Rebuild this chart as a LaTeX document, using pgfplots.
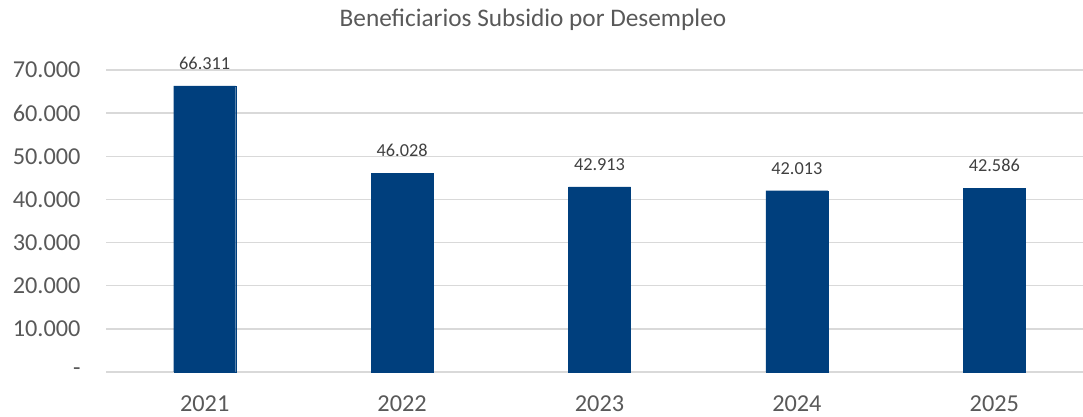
\documentclass[border=0pt]{standalone}
\usepackage{fontspec}
\setmainfont{Carlito}
\usepackage{pgfplots}
\pgfplotsset{compat=1.18}
\definecolor{barblue}{RGB}{0,63,125}
\definecolor{txtgray}{RGB}{89,89,89}
\definecolor{lblgray}{RGB}{64,64,64}
\definecolor{gridgray}{RGB}{217,217,217}
\begin{document}
\begin{tikzpicture}
\useasboundingbox (0pt,0pt) rectangle (1083pt,417pt);
\node[text=txtgray, font=\fontsize{25.3}{29}\selectfont, anchor=center] at (533pt,397pt) {Beneficiarios Subsidio por Desempleo};
\begin{axis}[
  at={(106pt,45pt)}, anchor=south west,
  scale only axis, width=987pt, height=302pt,
  ymin=0, ymax=70000,
  xmin=-0.5, xmax=4.5,
  scaled y ticks=false,
  xtick={0,1,2,3,4},
  xticklabels={2021,2022,2023,2024,2025},
  ytick={0,10000,20000,30000,40000,50000,60000,70000},
  yticklabels={-\hspace{14pt},10.000,20.000,30.000,40.000,50.000,60.000,70.000},
  axis line style={draw=none},
  axis x line*=bottom,
  axis y line*=left,
  tick style={draw=none},
  ymajorgrids,
  grid style={gridgray, line width=1.5pt},
  ticklabel style={text=txtgray, font=\fontsize{24.3}{28}\selectfont},
  yticklabel style={xshift=-22pt},
  xticklabel style={yshift=-16pt},
  /pgf/number format/.cd, 1000 sep={.}, assume math mode=true,
  /pgfplots/.cd,
  ybar, bar width=62pt,
  nodes near coords={\pgfmathprintnumber[assume math mode=true,1000 sep={.}]{\pgfplotspointmeta}},
  every node near coord/.append style={text=lblgray, font=\fontsize{18.3}{21}\selectfont, yshift=13pt},
  clip=false,
]
\draw[gridgray, line width=1.5pt] (axis cs:-0.5,0) -- (axis cs:4.5,0);
\addplot[fill=barblue, draw=barblue] coordinates {(0,66311) (1,46028) (2,42913) (3,42013) (4,42586)};
\end{axis}
\end{tikzpicture}
\end{document}
